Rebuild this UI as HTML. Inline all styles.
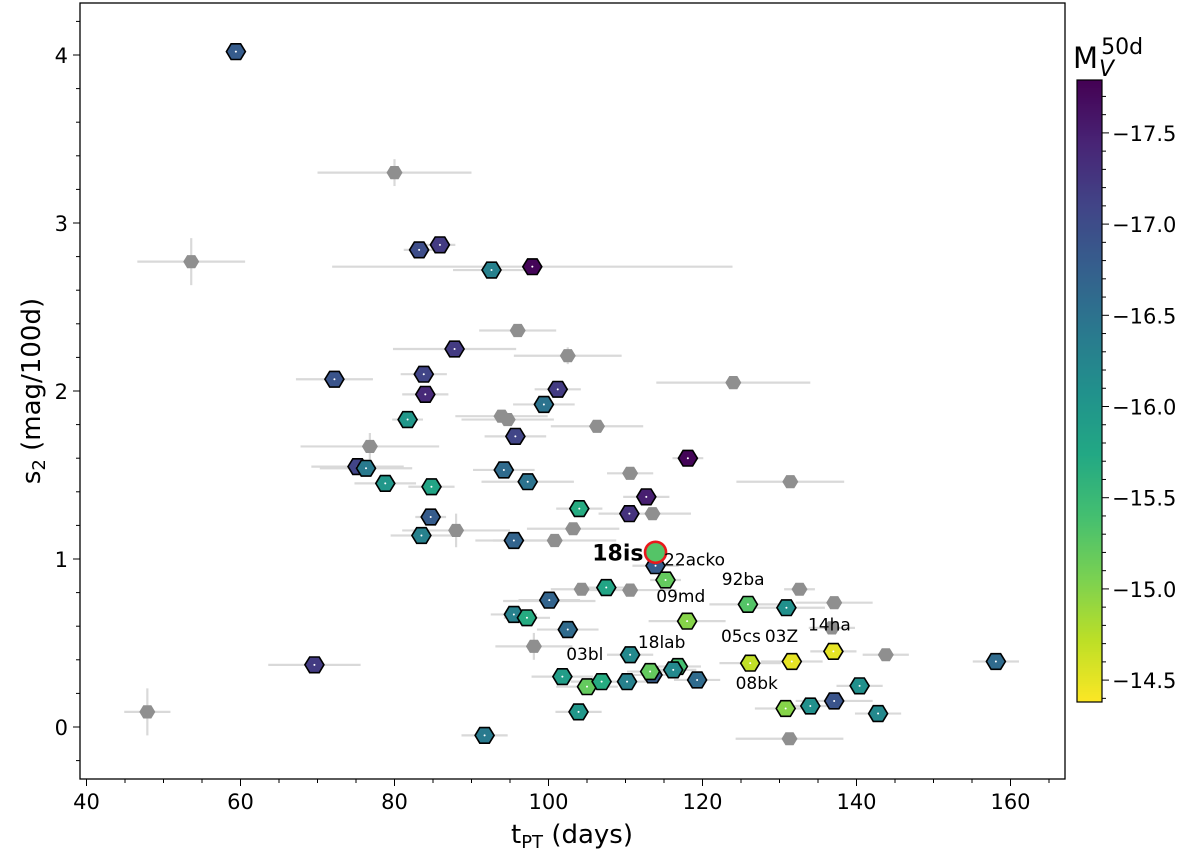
<!DOCTYPE html>
<html><head><meta charset="utf-8"><style>
body{margin:0;background:#fff;}
svg{display:block;font-family:"DejaVu Sans","Liberation Sans",sans-serif;}
</style></head><body>
<svg id="chart" width="1200" height="856" viewBox="0 0 1200 856" xmlns="http://www.w3.org/2000/svg">
<g id="grayErr"></g>
<g id="colErr"></g>
<g id="grayPts"></g>
<g id="colPts"></g>
<g id="labels"></g>
<g id="axes"></g>
<g id="cbar"></g>
</svg>
<script>
const NS="http://www.w3.org/2000/svg";
// Colored SNe: t_PT, s2, M_V50d, x-error
const colT=[59.4,83.2,85.9,92.6,97.9,87.8,72.2,83.8,84.0,101.2,99.4,81.7,95.7,75.2,76.3,78.8,84.8,94.2,97.3,118.1,112.7,104.0,110.5,84.7,83.5,95.5,113.9,115.2,107.5,95.5,97.2,102.5,118.0,125.9,130.9,110.6,101.8,105.0,106.9,110.2,113.5,113.2,116.8,116.2,119.3,103.9,91.7,126.2,131.6,137.0,130.8,134.0,137.1,140.4,142.8,158.1,69.6,100.1];
const colS=[4.02,2.84,2.87,2.72,2.74,2.25,2.07,2.10,1.98,2.01,1.92,1.83,1.73,1.55,1.54,1.45,1.43,1.53,1.46,1.60,1.37,1.30,1.27,1.25,1.14,1.11,0.96,0.875,0.83,0.67,0.65,0.58,0.63,0.73,0.71,0.43,0.30,0.24,0.27,0.27,0.31,0.33,0.36,0.34,0.28,0.09,-0.05,0.38,0.39,0.45,0.11,0.125,0.155,0.245,0.08,0.39,0.37,0.755];
const colM=[-16.8,-17.0,-17.2,-16.3,-17.75,-17.2,-16.9,-17.1,-17.4,-17.2,-16.5,-16.0,-17.1,-17.1,-16.4,-16.0,-15.8,-16.6,-16.5,-17.75,-17.5,-15.7,-17.3,-16.8,-16.3,-16.7,-16.8,-15.2,-15.8,-16.3,-15.7,-16.6,-15.0,-15.3,-16.1,-16.2,-15.9,-15.2,-15.7,-16.3,-16.8,-15.2,-15.4,-16.2,-16.6,-16.0,-16.4,-14.7,-14.5,-14.5,-15.0,-16.1,-16.9,-16.1,-16.2,-16.6,-17.2,-16.7];
const colXe=[1,2,2,5,26,8,5,3,3,3,4,2,4,6,6,4,3,4,6,2,3,3,4,2,4,5,3,2,3,3,3,4,5,5,5,3,4,4,4,3,3,3,3,3,3,3,3,4,4,3,4,4,5,3,3,3,6,4];
// Gray (no M_V) SNe
const grayT=[80.0,53.6,96.0,102.5,124.0,93.9,94.7,106.3,76.8,110.6,131.4,113.5,88.0,103.2,100.8,104.3,110.6,132.6,137.1,136.8,98.1,143.8,131.3,47.9,100.1];
const grayS=[3.30,2.77,2.36,2.21,2.05,1.85,1.83,1.79,1.67,1.51,1.46,1.27,1.17,1.18,1.11,0.82,0.815,0.82,0.74,0.59,0.48,0.43,-0.07,0.09,0.75];
const grayXe=[10,7,5,7,10,6,6,6,9,3,7,5,7,6,8,4,6,2,5,3,5,3,7,3,6];
const grayYe=[0.08,0.14,0.03,0.05,0.03,0.03,0.03,0.03,0.08,0.03,0.03,0.03,0.1,0.03,0.03,0.03,0.03,0.03,0.03,0.03,0.08,0.03,0.03,0.14,0.03];
// Highlighted
const hiT=[113.9], hiS=[1.04], hiM=[-15.3];
const lblText=["22acko","92ba","09md","05cs","03Z","14ha","18lab","03bl","08bk"];
const lblT=[115.0,122.5,114.0,122.4,128.1,133.7,111.6,102.3,124.3];
const lblS=[0.96,0.845,0.745,0.505,0.505,0.575,0.47,0.4,0.225];
const xTicks=[40,60,80,100,120,140,160];
const yTicks=[0,1,2,3,4];
const cTicks=[-17.5,-17.0,-16.5,-16.0,-15.5,-15.0,-14.5];

const X=t=>86.5+(t-40)*7.7;
const Y=s=>727-s*168;
const MMIN=-17.79,MMAX=-14.38;
const CT=80,CB=702;
const CY=m=>CT+(m-MMIN)/(MMAX-MMIN)*(CB-CT);
const VIR=[[68,1,84],[72,36,117],[65,68,135],[53,95,141],[42,120,142],[33,145,140],[34,168,132],[68,191,112],[122,209,81],[189,223,38],[253,231,37]];
function vir(f){f=Math.max(0,Math.min(1,f));const p=f*10,i=Math.min(9,Math.floor(p)),r=p-i;const a=VIR[i],b=VIR[i+1];
return `rgb(${a.map((v,k)=>Math.round(v+(b[k]-v)*r)).join(',')})`;}
const colM2=m=>vir((m-MMIN)/(MMAX-MMIN));
function el(tag,attrs,parent){const e=document.createElementNS(NS,tag);for(const k in attrs)e.setAttribute(k,attrs[k]);parent.appendChild(e);return e;}
function hex(cx,cy,r){const p=[];for(let i=0;i<6;i++){const a=Math.PI/3*i;p.push((cx+r*Math.cos(a)).toFixed(1)+','+(cy+r*0.95*Math.sin(a)).toFixed(1));}return p.join(' ');}

const gE=document.getElementById('grayErr'),cE=document.getElementById('colErr'),gP=document.getElementById('grayPts'),cP=document.getElementById('colPts');
grayT.forEach((t,i)=>{
 const l=el('line',{x1:X(t-grayXe[i]),x2:X(t+grayXe[i]),y1:Y(grayS[i]),y2:Y(grayS[i]),stroke:'#d9d9d9','stroke-width':2.2},gE);
 
 
 const v=el('line',{x1:X(t),x2:X(t),y1:Y(grayS[i]-grayYe[i]),y2:Y(grayS[i]+grayYe[i]),stroke:'#d9d9d9','stroke-width':2.2},gE);
 
 
 const h=el('polygon',{points:hex(X(t),Y(grayS[i]),8),fill:'#8f8f8f'},gP);
 
 
});
colT.forEach((t,i)=>{
 const l=el('line',{x1:X(t-colXe[i]),x2:X(t+colXe[i]),y1:Y(colS[i]),y2:Y(colS[i]),stroke:'#d9d9d9','stroke-width':2.2},cE);
 
 
 const h=el('polygon',{points:hex(X(t),Y(colS[i]),9.5),fill:colM2(colM[i]),stroke:'#000','stroke-width':1.6},cP);
 
 
 const d=el('circle',{cx:X(t),cy:Y(colS[i]),r:1,fill:'#fff'},cP);
 
 
});
const L=document.getElementById('labels');
hiT.forEach((t,i)=>{
 const c=el('circle',{cx:X(t),cy:Y(hiS[i]),r:10.5,fill:colM2(hiM[i]),stroke:'#e8191c','stroke-width':2.6},L);
 
 
 const tx=el('text',{x:X(t)-12,y:Y(hiS[i])+8,'font-size':22,'font-weight':'bold','text-anchor':'end'},L);
 tx.textContent='18is';
 
 
});
lblText.forEach((s,i)=>{
 const tx=el('text',{x:X(lblT[i]),y:Y(lblS[i]),'font-size':17},L);
 tx.textContent=s;
 
 
});
const A=document.getElementById('axes');
const fr=el('rect',{x:80,y:3,width:985,height:776,fill:'none',stroke:'#000','stroke-width':1.3},A);


for(let v=40;v<=165;v+=5){const x=X(v);if(x<80||x>1065)continue;const maj=v%20===0;el('line',{x1:x,x2:x,y1:779,y2:779+(maj?7:4),stroke:'#000','stroke-width':1},A);}
xTicks.forEach(v=>{const t=el('text',{x:X(v),y:809,'font-size':21,'text-anchor':'middle'},A);t.textContent=v;
 
 });
for(let k=-1;k<=21;k++){const v=k*0.2;const y=Y(v);if(y<3||y>779)continue;const maj=k%5===0;el('line',{x1:80,x2:80-(maj?7:4),y1:y,y2:y,stroke:'#000','stroke-width':1},A);}
yTicks.forEach(v=>{const t=el('text',{x:68,y:Y(v)+8,'font-size':21,'text-anchor':'end'},A);t.textContent=v;
 
 });
const xt=el('text',{x:572,y:843,'font-size':26,'text-anchor':'middle'},A);
xt.innerHTML='t<tspan font-size="18" dy="5">PT</tspan><tspan dy="-5"> (days)</tspan>';


const yt=el('text',{x:0,y:0,'font-size':26,'text-anchor':'middle',transform:'translate(40,391) rotate(-90)'},A);
yt.innerHTML='s<tspan font-size="18" dy="5">2</tspan><tspan dy="-5"> (mag/100d)</tspan>';


const C=document.getElementById('cbar');
for(let y=CT;y<CB;y+=2){el('rect',{x:1077,y:y,width:25,height:2.5,fill:vir((y-CT)/(CB-CT))},C);}
const cf=el('rect',{x:1077,y:CT,width:25,height:CB-CT,fill:'none',stroke:'#000','stroke-width':1.2},C);


for(let k=-178;k<=-144;k++){const m=k/10;const y=CY(m);if(y<CT||y>CB)continue;const maj=k%5===0;el('line',{x1:1102,x2:1102+(maj?7:4),y1:y,y2:y,stroke:'#000','stroke-width':1},C);}
cTicks.forEach(m=>{const t=el('text',{x:1112,y:CY(m)+8,'font-size':21},C);t.textContent='\u2212'+Math.abs(m).toFixed(1);
 
 });
const ct=el('text',{x:1073,y:68,'font-size':29},C);
ct.innerHTML='M<tspan font-size="22" font-style="italic" dx="1" dy="8">V</tspan><tspan font-size="22" dx="-13" dy="-22">50d</tspan>';


</script>
</body></html>
